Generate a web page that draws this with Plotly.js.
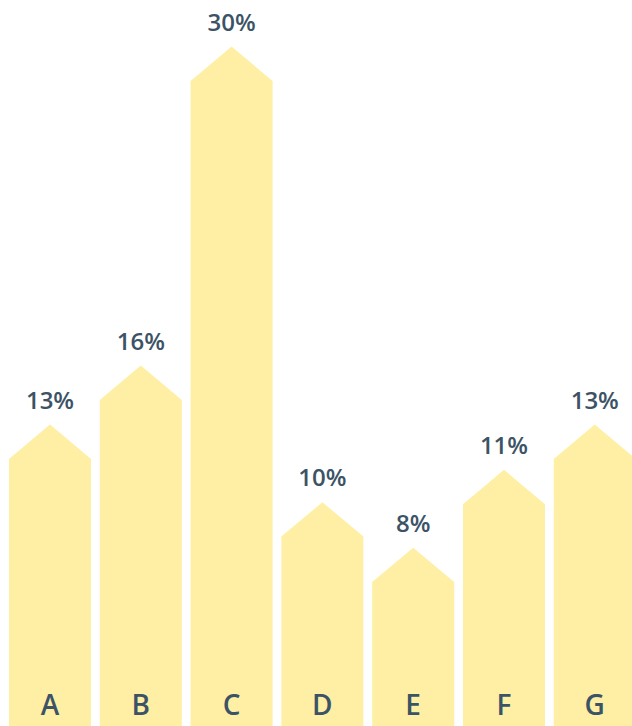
<!DOCTYPE html>
<html>
<head>
<meta charset="utf-8">
<script src="https://cdn.plot.ly/plotly-3.0.1.min.js"></script>
<style>
html,body{margin:0;padding:0;background:#fff;}
#chart{width:632px;height:726px;}
</style>
</head>
<body>
<div id="chart"></div>
<script>
const categories = ["A", "B", "C", "D", "E", "F", "G"];
const values = [13.2, 15.82, 30.0, 9.75, 7.73, 11.19, 13.2];
const valueLabels = ["13%", "16%", "30%", "10%", "8%", "11%", "13%"];

const barColor = "#FEEFA5";
const textColor = "#3C5366";
const barWidth = 0.903;
const roofHeight = 1.53;
const labelOffset = 2.5;
const catLabelY = 2.12;
const yMin = 1.333, yMax = 33.6;

const traces = [];
categories.forEach((c, i) => {
  const l = i - barWidth / 2, r = i + barWidth / 2;
  const v = values[i];
  traces.push({
    type: "scatter", mode: "lines",
    x: [l, l, i, r, r, l],
    y: [0, v, v + roofHeight, v, 0, 0],
    fill: "toself", fillcolor: barColor,
    line: {width: 0, color: barColor},
    hoverinfo: "skip", showlegend: false
  });
});
traces.push({
  type: "scatter", mode: "text",
  x: categories.map((c, i) => i),
  y: values.map(v => v + labelOffset),
  text: valueLabels,
  textposition: "middle center",
  textfont: {family: "Open Sans", size: 24, color: textColor, weight: 600},
  cliponaxis: false, showlegend: false, hoverinfo: "skip"
});
traces.push({
  type: "scatter", mode: "text",
  x: categories.map((c, i) => i),
  y: categories.map(() => catLabelY),
  text: categories,
  textposition: "middle center",
  textfont: {family: "Open Sans", size: 28, color: textColor, weight: 600},
  cliponaxis: false, showlegend: false, hoverinfo: "skip"
});

const layout = {
  width: 632, height: 726,
  margin: {l: 0, r: 0, t: 0, b: 0},
  paper_bgcolor: "#fff", plot_bgcolor: "#fff",
  xaxis: {range: [-0.5507, 6.41], visible: false, fixedrange: true},
  yaxis: {range: [yMin, yMax], visible: false, fixedrange: true},
  showlegend: false
};
Plotly.newPlot("chart", traces, layout, {staticPlot: true, displayModeBar: false});
</script>
</body>
</html>
